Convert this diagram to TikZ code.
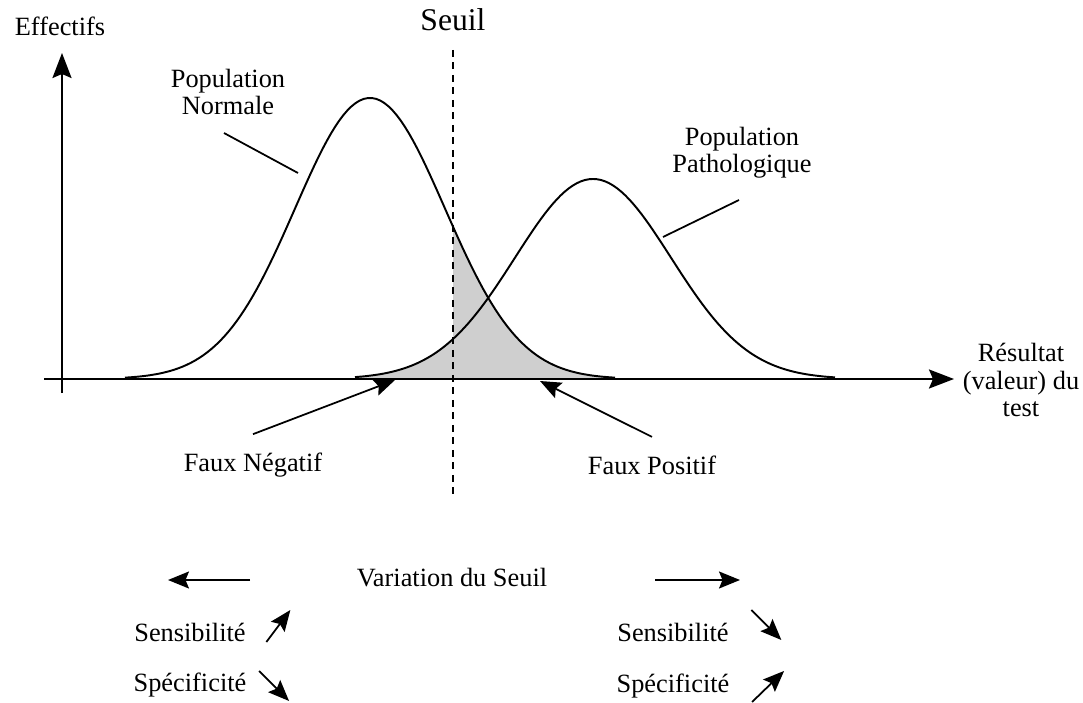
\documentclass[tikz,border=0pt]{standalone}
\usepackage{fontspec}
\setmainfont{Liberation Serif}
\usepackage{tikz}
\usetikzlibrary{arrows.meta,positioning,calc}

% bell curves of the two populations (pixel units)
\newcommand{\normcurve}[1]{379-281*exp(-0.5*((#1-370)/75)^2)}
\newcommand{\pathcurve}[1]{379-200*exp(-0.5*((#1-593)/78)^2)}

\begin{document}
\begin{tikzpicture}[x=0.02cm,y=-0.02cm,>={Stealth[length=5mm,width=3.8mm,inset=0.8mm]},line width=1.1pt,font=\fontsize{15}{15.5}\selectfont]
\useasboundingbox (0,0) rectangle (1083,703);
\tikzset{lbl/.style={align=center,inner sep=1pt},
  lead/.style={line width=1pt},
  small>/.style={-{Stealth[length=4.2mm,width=3.4mm,inset=0.7mm]}}}
% shaded overlap (false negatives / false positives)
\fill[gray!38] (360,379) -- plot[domain=360:453,samples=40] (\x,{\pathcurve{\x}}) -- (453,379) -- cycle;
\fill[gray!38] (453,379) -- plot[domain=453:615,samples=60] (\x,{\normcurve{\x}}) -- (615,379) -- cycle;
% axes
\coordinate (O) at (62,393);
\coordinate (ytip) at (62,53);
\coordinate (x0) at (44,379);
\coordinate (xtip) at (954,379);
\draw[->,line width=1.3pt] (O) -- (ytip);
\draw[->,line width=1.3pt] (x0) -- (xtip);
% curves
\draw plot[domain=125:615,samples=120] (\x,{\normcurve{\x}});
\draw plot[domain=355:835,samples=120] (\x,{\pathcurve{\x}});
% threshold
\node[lbl,font=\fontsize{18}{18}\selectfont] (seuil) at (453,20) {Seuil};
\coordinate (sbot) at (453,495);
\draw[dash pattern=on 1.4mm off 1.1mm,line width=1pt] (seuil.south) ++(0,16) -- (sbot);
% labels
\node[lbl] (eff) at (60,26) {Effectifs};
\node[lbl] (norm) at (228,92) {Population\\Normale};
\node[lbl] (path) at (742,153) {Population\\Pathologique};
\node[lbl] (res) at (1021,380) {Résultat\\(valeur) du\\test};
\coordinate (normpt) at (298,173);
\coordinate (pathpt) at (663,237);
\draw[lead] (224,133) -- (normpt);
\draw[lead] (739,200) -- (pathpt);
\node[lbl] (fn) at (253,465) {Faux Négatif};
\node[lbl] (fp) at (652,465) {Faux Positif};
\coordinate (fntip) at (395,380);
\coordinate (fptip) at (540,381);
\draw[small>,lead] (fn.north) ++(0,-16) -- (fntip);
\draw[small>,lead] (fp.north) ++(0,-16) -- (fptip);
% variation of the threshold
\node[lbl] (var) at (452,578) {Variation du Seuil};
\draw[small>,lead] (250,580) -- (168,580);
\draw[small>,lead] (655,580) -- (740,580);
\node[lbl] (sensL) at (190,632) {Sensibilité};
\node[lbl] (specL) at (190,685) {Spécificité};
\node[lbl] (sensR) at (673,632) {Sensibilité};
\node[lbl] (specR) at (673,686) {Spécificité};
\draw[small>,lead] ($(sensL.east)+(18,10)$) -- ++(24,-32);
\draw[small>,lead] ($(specL.east)+(10,-14)$) -- ++(30,30);
\draw[small>,lead] ($(sensR.east)+(20,-22)$) -- ++(30,30);
\draw[small>,lead] ($(specR.east)+(20,16)$) -- ++(32,-31);
\end{tikzpicture}
\end{document}
